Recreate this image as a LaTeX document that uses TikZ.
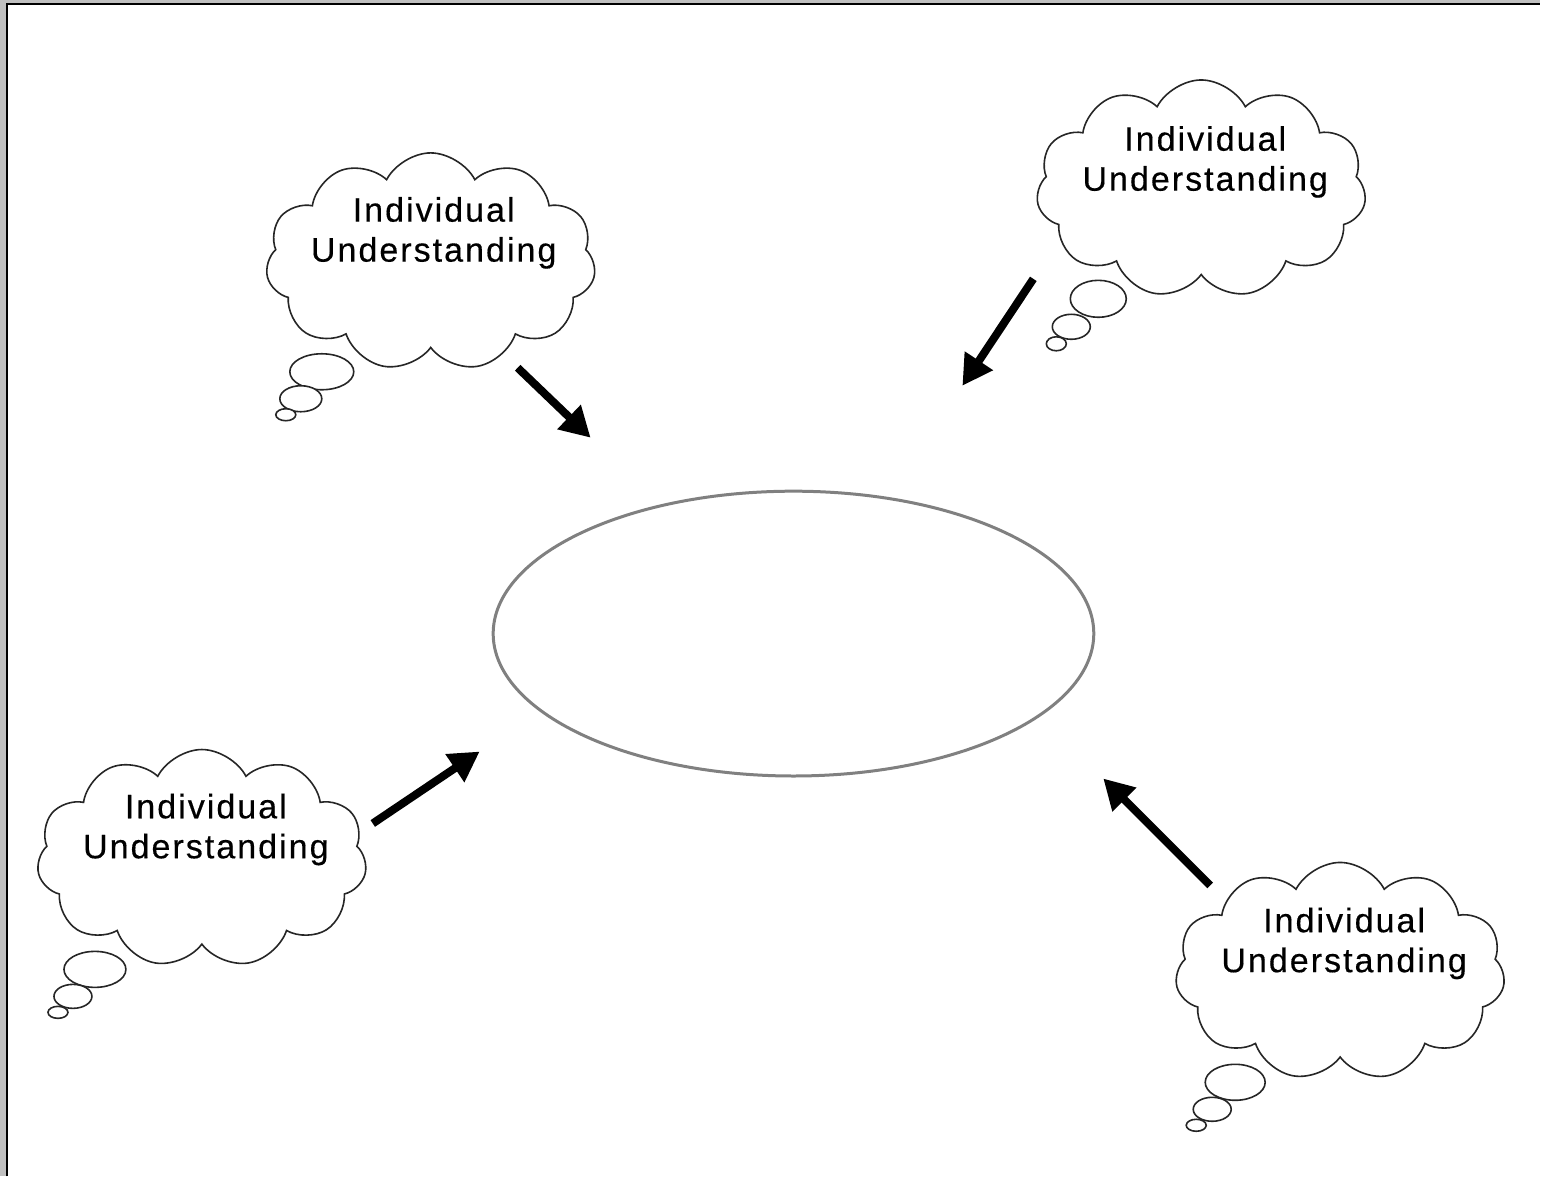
\documentclass[tikz,border=0pt]{standalone}
\usepackage{fontspec}
\setmainfont{Liberation Sans}
\newfontfamily\cloudfont[LetterSpace=6,FakeBold=0.4]{Liberation Sans}
\usetikzlibrary{shapes.symbols,shapes.geometric,arrows.meta}
\definecolor{framegray}{HTML}{C0C0C0}
\definecolor{ovalgray}{HTML}{808080}
\tikzset{
  thought/.style={cloud, cloud puffs=11, cloud puff arc=125, cloud ignores aspect, draw=black!85,
    line width=1.6pt, minimum width=330pt, minimum height=218pt, fill=white, inner sep=0pt},
  bubble/.style={ellipse, draw=black!85, line width=1.6pt, inner sep=0pt, fill=white},
  cloudtext/.style={font=\cloudfont\fontsize{34}{40}\selectfont, align=center, inner sep=0pt},
  bigarrow/.style={line width=8pt, -{Triangle[length=30pt,width=32pt]}},
  oval/.style={ellipse, draw=ovalgray, line width=3pt, minimum width=601pt, minimum height=285pt, inner sep=0pt}
}
\begin{document}
\begin{tikzpicture}[x=1pt,y=-1pt]
  % frame
  \fill[framegray] (0,0) rectangle (1541,1177);
  \fill[white] (7,4) rectangle (1541,1177);
  \draw[black, line width=2pt] (7,1177) -- (7,4) -- (1541,4);
  \useasboundingbox (0,0) rectangle (1541,1177);

  % central oval
  \node[oval] (group) at (794,634) {};

  % cloud 1 (top left)
  \node[thought] (c1) at (431,262) {};
  \node[bubble, minimum width=64pt, minimum height=36pt] (b1a) at (322,372) {};
  \node[bubble, minimum width=42pt, minimum height=26pt] (b1b) at (301,399) {};
  \node[bubble, minimum width=20pt, minimum height=12pt] (b1c) at (286,415) {};
  \node[cloudtext] (t1) at (434,233) {Individual\\Understanding};

  % cloud 2 (top right)
  \node[thought] (c2) at (1202,189) {};
  \node[bubble, minimum width=56pt, minimum height=37pt] (b2a) at (1099,299) {};
  \node[bubble, minimum width=38pt, minimum height=25pt] (b2b) at (1072,327) {};
  \node[bubble, minimum width=20pt, minimum height=14pt] (b2c) at (1057,344) {};
  \node[cloudtext] (t2) at (1206,162) {Individual\\Understanding};

  % cloud 3 (bottom left)
  \node[thought] (c3) at (202,859) {};
  \node[bubble, minimum width=62pt, minimum height=36pt] (b3a) at (95,970) {};
  \node[bubble, minimum width=38pt, minimum height=24pt] (b3b) at (73,997) {};
  \node[bubble, minimum width=20pt, minimum height=12pt] (b3c) at (58,1013) {};
  \node[cloudtext] (t3) at (206,830) {Individual\\Understanding};

  % cloud 4 (bottom right)
  \node[thought] (c4) at (1341,972) {};
  \node[bubble, minimum width=60pt, minimum height=36pt] (b4a) at (1236,1083) {};
  \node[bubble, minimum width=38pt, minimum height=24pt] (b4b) at (1213,1110) {};
  \node[bubble, minimum width=20pt, minimum height=12pt] (b4c) at (1197,1126) {};
  \node[cloudtext] (t4) at (1345,944) {Individual\\Understanding};

  % arrows
  \coordinate (a1s) at (518,368);
  \coordinate (a1e) at (591,438);
  \coordinate (a2s) at (1034,279);
  \coordinate (a2e) at (963,386);
  \coordinate (a3s) at (373,824);
  \coordinate (a3e) at (480,752);
  \coordinate (a4s) at (1211,886);
  \coordinate (a4e) at (1104,779);
  \draw[bigarrow] (a1s) -- (a1e);
  \draw[bigarrow] (a2s) -- (a2e);
  \draw[bigarrow] (a3s) -- (a3e);
  \draw[bigarrow] (a4s) -- (a4e);
\end{tikzpicture}
\end{document}
